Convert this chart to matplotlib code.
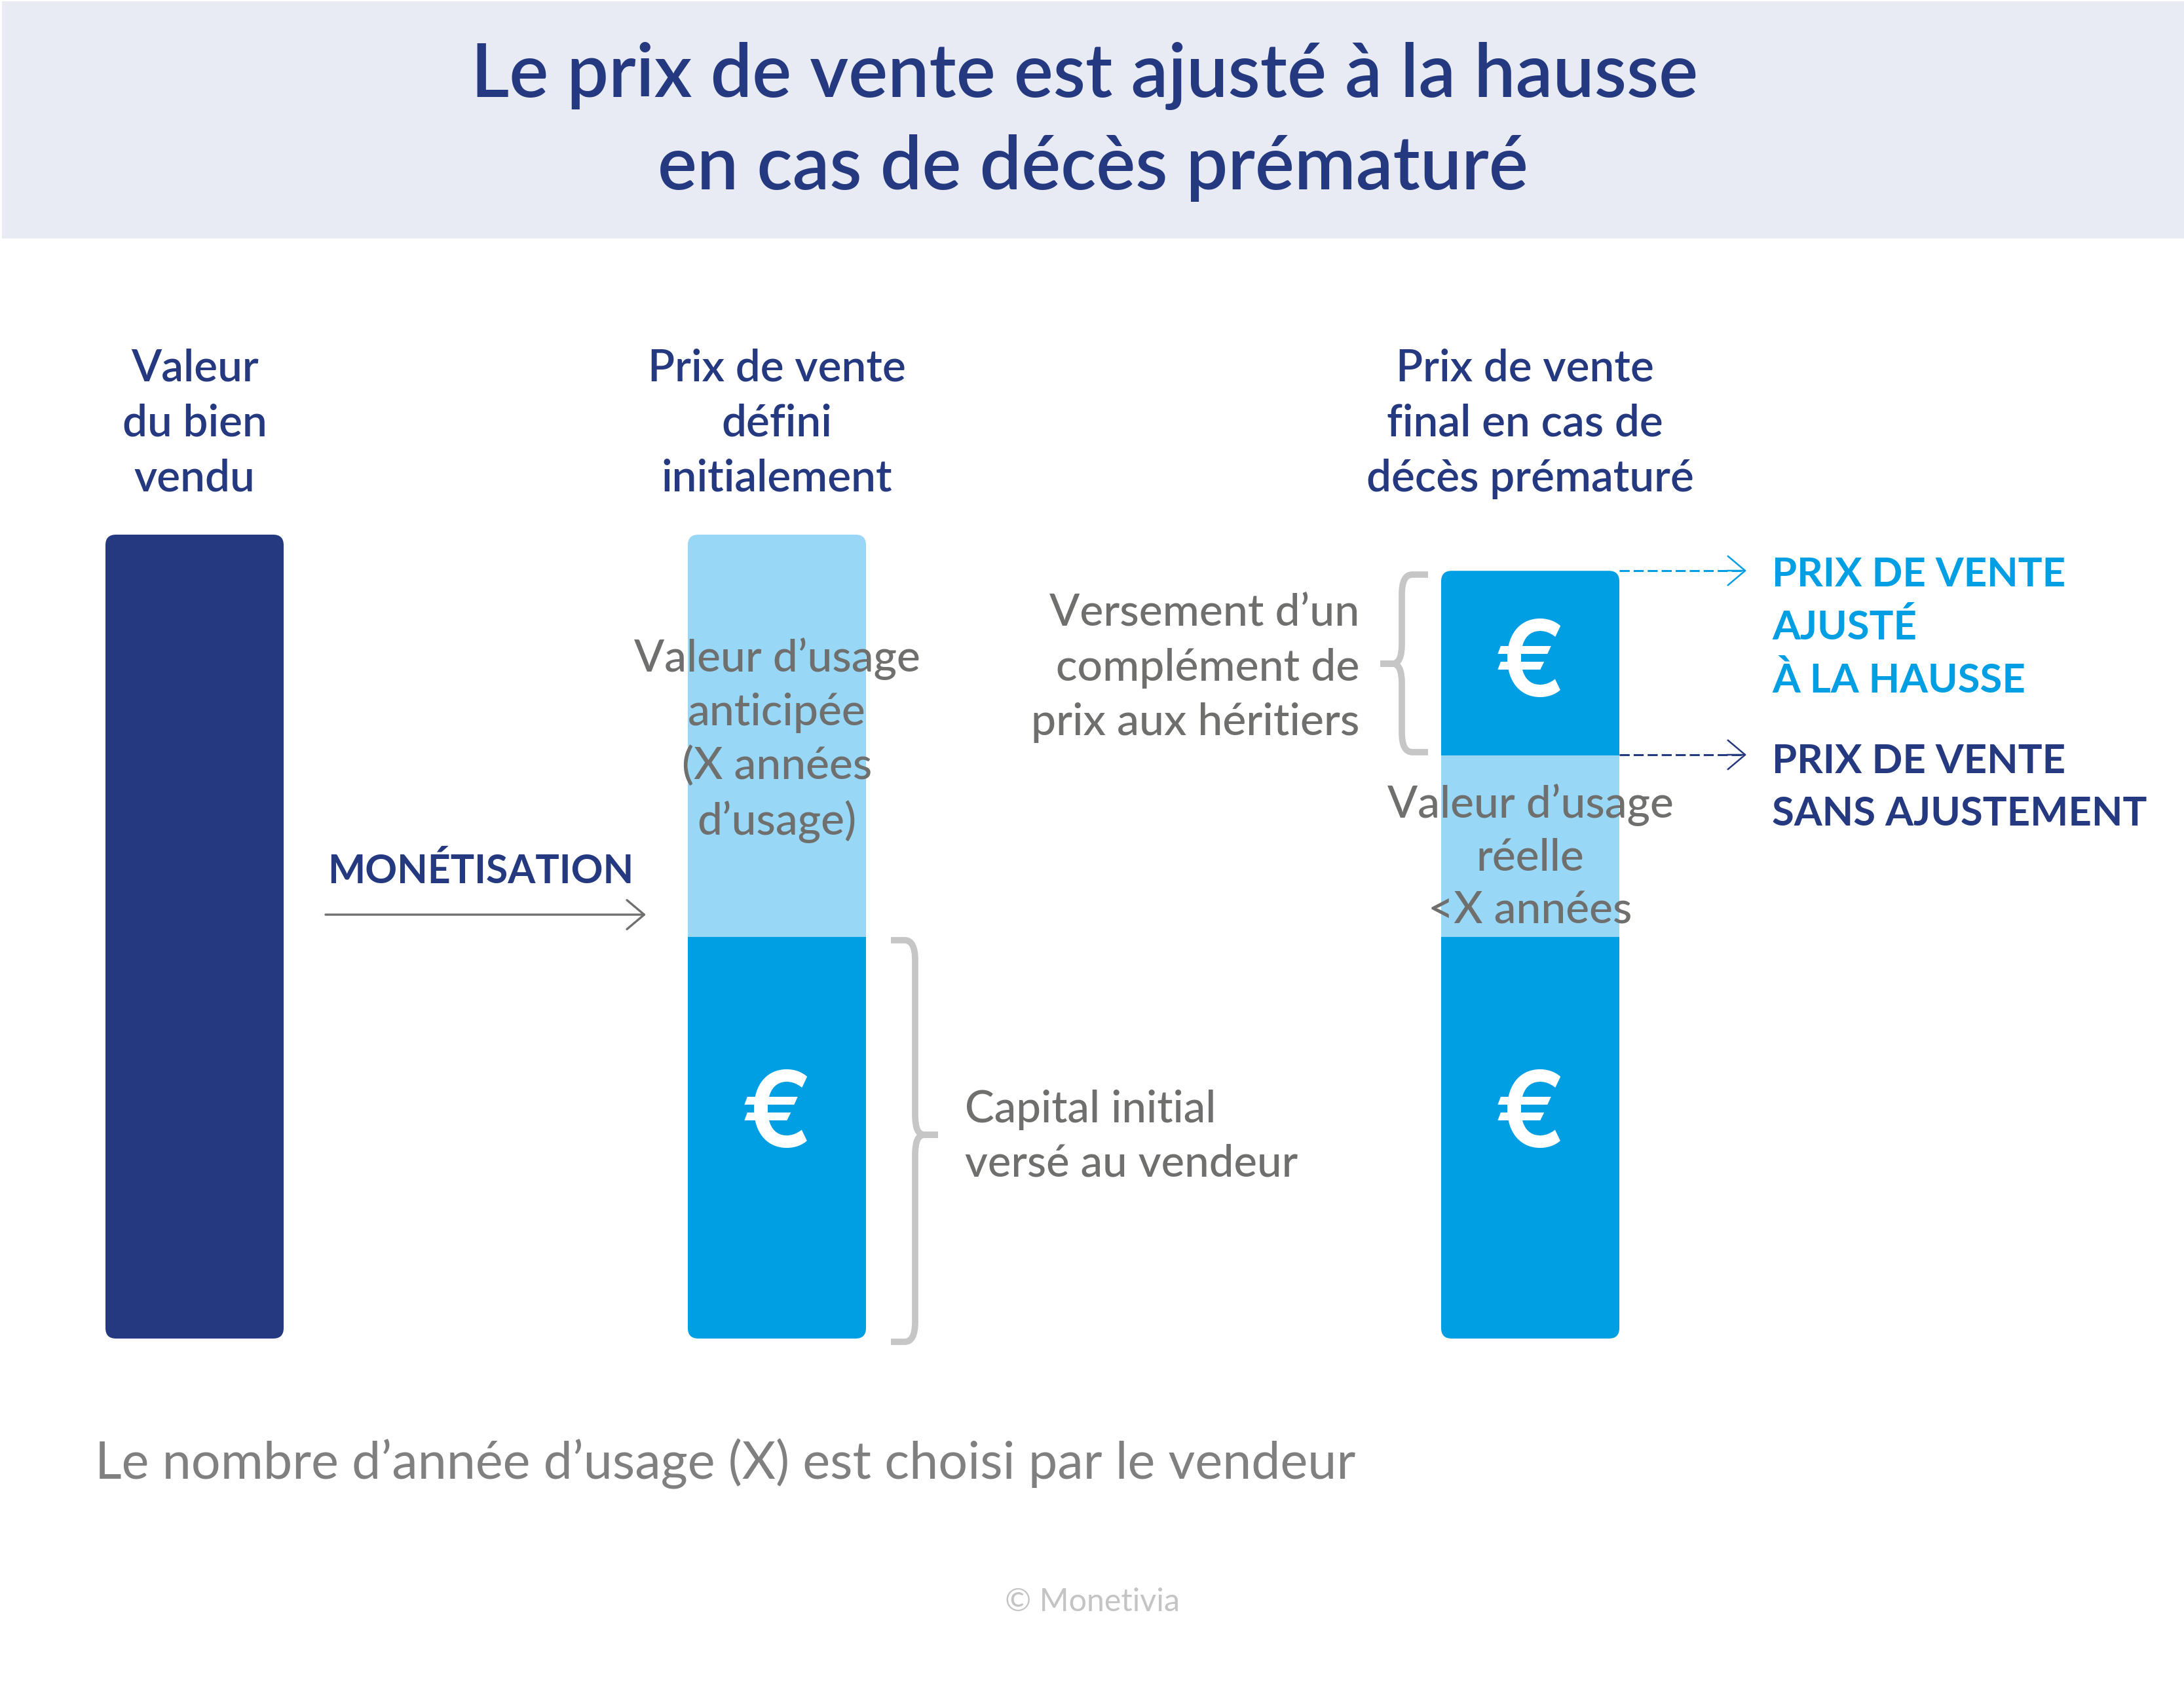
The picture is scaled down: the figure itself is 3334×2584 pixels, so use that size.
import matplotlib
matplotlib.use('Agg')
import matplotlib.pyplot as plt
from matplotlib.patches import FancyBboxPatch, PathPatch, Rectangle
from matplotlib.path import Path
from matplotlib.transforms import IdentityTransform

plt.rcParams['font.family'] = ['Lato', 'DejaVu Sans']

W, H = 3334, 2584
NAVY = '#24397F'
BLUE = '#009FE3'
LIGHT = '#99D7F6'
GREY = '#6F6F6E'
BRACE = '#C6C6C6'

# bar values, as a share of the value of the property
categories = [['Valeur', 'du bien', 'vendu'],
              ['Prix de vente', 'défini', 'initialement'],
              ['Prix de vente', 'final en cas de', 'décès prématuré']]
capital = [100, 50, 50]
usage = [0, 50, 22.5]
complement = [0, 0, 23]
base_colors = [NAVY, BLUE, BLUE]

title_lines = ['Le prix de vente est ajusté à la hausse', 'en cas de décès prématuré']
bar_centers = [297, 1186, 2336]
# the last header is not quite centred on its bar
label_shift = [[0, 0, 0], [0, 0, 0], [-8, -8, 0]]


def brace(ax, xv, y0, y1, tip, mid, end):
    # curly brace with its vertical at xv, tick towards tip, arms back to end
    d = 1 if tip > xv else -1
    s = 30
    verts = [(end, y0), (xv - d * 16, y0), (xv, y0), (xv, y0 + s),
             (xv, mid - s), (xv, mid), (xv + d * 14, mid), (tip, mid),
             (tip, mid), (xv + d * 14, mid), (xv, mid), (xv, mid + s),
             (xv, y1 - s), (xv, y1), (xv - d * 16, y1), (end, y1)]
    codes = [Path.MOVETO, Path.LINETO, Path.CURVE3, Path.CURVE3,
             Path.LINETO, Path.CURVE3, Path.CURVE3, Path.LINETO,
             Path.MOVETO, Path.LINETO, Path.CURVE3, Path.CURVE3,
             Path.LINETO, Path.CURVE3, Path.CURVE3, Path.LINETO]
    ax.add_patch(PathPatch(Path(verts, codes), fc='none', ec=BRACE, lw=7,
                           capstyle='butt'))


fig = plt.figure(figsize=(W / 100, H / 100), dpi=100)

# bars, in data units
ax = fig.add_axes([0, (H - 2043) / H, 1, 1227 / H])
ax.set_xlim(0, W)
ax.set_ylim(0, 100)
ax.axis('off')
bar_w = 272
b1 = ax.bar(bar_centers, capital, bar_w, color=base_colors, lw=0)
b2 = ax.bar(bar_centers, usage, bar_w, bottom=capital, color=LIGHT, lw=0)
tops = [c + u for c, u in zip(capital, usage)]
b3 = ax.bar(bar_centers, complement, bar_w, bottom=tops, color=BLUE, lw=0)

# rounded corners on each whole column
fig.canvas.draw()
for i, xc in enumerate(bar_centers):
    total = capital[i] + usage[i] + complement[i]
    (x0, y0) = ax.transData.transform((xc - bar_w / 2, 0))
    (x1, y1) = ax.transData.transform((xc + bar_w / 2, total))
    r = 16
    clip = FancyBboxPatch((x0 + r, y0 + r), x1 - x0 - 2 * r, y1 - y0 - 2 * r,
                          boxstyle=f'round,pad={r},rounding_size={r}',
                          transform=IdentityTransform())
    for bars in (b1, b2, b3):
        bars[i].set_clip_path(clip)

# everything else in reference pixels
ov = fig.add_axes([0, 0, 1, 1], zorder=5)
ov.set_xlim(0, W)
ov.set_ylim(H, 0)
ov.axis('off')
ov.patch.set_alpha(0)

ov.add_patch(Rectangle((3, 2), W - 3, 362, fc='#E8EBF3', ec='none', zorder=0))
ov.text(W / 2 - 11, 116, title_lines[0], color=NAVY, fontsize=81.4, fontweight='semibold',
        ha='center', va='center')
ov.text(W / 2 + 1, 256, title_lines[1], color=NAVY, fontsize=81.4, fontweight='semibold',
        ha='center', va='center')

for xc, cat, shifts in zip(bar_centers, categories, label_shift):
    for k, (line, sh) in enumerate(zip(cat, shifts)):
        ov.text(xc + sh, 562 + k * 84.5, line, color=NAVY, fontsize=48.5, ha='center',
                va='center', fontweight='semibold')

ov.text(1186, 1130, 'Valeur d’usage\nanticipée\n(X années\nd’usage)', color=GREY,
        fontsize=48.8, ha='center', va='center', linespacing=1.385, fontweight='medium')
ov.text(2336, 1309, 'Valeur d’usage\nréelle\n<X années', color=GREY,
        fontsize=48.8, ha='center', va='center', linespacing=1.36, fontweight='medium')
ov.text(2075, 1020, 'Versement d’un\ncomplément de\nprix aux héritiers', color=GREY,
        fontsize=49, ha='right', va='center', linespacing=1.43, fontweight='medium')
ov.text(1473, 1735, 'Capital initial\nversé au vendeur', color=GREY,
        fontsize=48.3, ha='left', va='center', linespacing=1.41, fontweight='medium')

for xc, y in [(1186, 1708), (2336, 1708), (2336, 1020)]:
    ov.text(xc, y, '€', color='white', fontsize=116, ha='center', va='center',
            family='Inter', fontweight='semibold')

brace(ov, 1397, 1435, 2048, 1432, 1732, 1360)
brace(ov, 2140, 877, 1148, 2107, 1013, 2180)

ov.text(500, 1330, 'MONÉTISATION', color=NAVY, fontsize=43.7, fontweight='bold',
        ha='left', va='center')


def arrow(y, x0, x1, color, lw, dashed=False):
    head = dict(arrowstyle='->,head_length=1.9,head_width=1.6', color=color, lw=lw,
                shrinkA=0, shrinkB=0)
    if dashed:
        ov.plot([x0, x1 - 6], [y, y], color=color, lw=2.2, ls=(0, (5, 2)), dash_capstyle='butt')
        ov.annotate('', xy=(x1, y), xytext=(x1 - 30, y), arrowprops=head)
    else:
        ov.annotate('', xy=(x1, y), xytext=(x0, y), arrowprops=head)


arrow(1396, 497, 986, GREY, 2.4)
arrow(871, 2472, 2666, BLUE, 1.8, dashed=True)
arrow(1152, 2472, 2666, NAVY, 1.8, dashed=True)

ov.text(2705, 958, 'PRIX DE VENTE\nAJUSTÉ\nÀ LA HAUSSE', color=BLUE, fontsize=44.4,
        fontweight='bold', ha='left', va='center', linespacing=1.51)
ov.text(2705, 1202, 'PRIX DE VENTE\nSANS AJUSTEMENT', color=NAVY, fontsize=44.4,
        fontweight='bold', ha='left', va='center', linespacing=1.51)

ov.text(145, 2234, 'Le nombre d’année d’usage (X) est choisi par le vendeur', color='#808080',
        fontsize=57, ha='left', va='center')
ov.text(1668, 2445, '© Monetivia', color='#C4C4C4', fontsize=34.8, ha='center', va='center')

fig.savefig('out.png', dpi=100, facecolor='white')
